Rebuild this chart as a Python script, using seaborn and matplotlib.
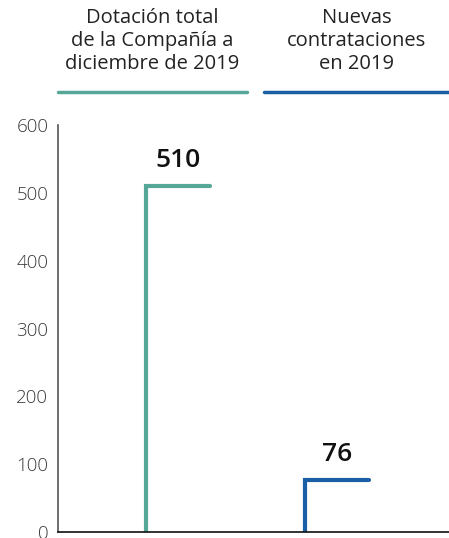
import matplotlib
matplotlib.use("Agg")
import matplotlib.pyplot as plt
import seaborn as sns
import pandas as pd

categories = ["Dotación total\nde la Compañía a\ndiciembre de 2019", "Nuevas\ncontrataciones\nen 2019"]
values = [510, 76]
colors = ["#56a797", "#1a5ea6"]
yticks = [0, 100, 200, 300, 400, 500, 600]

sns.set_theme(style="white")
plt.rcParams['font.family'] = ['Open Sans', 'DejaVu Sans']

fig = plt.figure(figsize=(4.49, 5.38), dpi=100)
ax = fig.add_axes([58/449, 6/538, 1 - 58/449, (532-125)/538])

arm = 0.40
rows = []
for i, (c, v) in enumerate(zip(categories, values)):
    for k, (x, y) in enumerate([(i, 0), (i, v), (i + arm, v)]):
        rows.append({"cat": c, "x": x, "y": y, "order": k})
df = pd.DataFrame(rows)

sns.lineplot(data=df, x="x", y="y", hue="cat", palette=colors, sort=False,
             estimator=None, linewidth=3.0, legend=False, ax=ax,
             solid_capstyle="round", solid_joinstyle="miter")

for i, v in enumerate(values):
    ax.annotate(str(v), (i + arm/2, v), xytext=(0, 9.5), textcoords="offset points",
                ha="center", va="bottom", fontsize=19, fontweight="semibold", color="#111111")

ax.set_xlim(-0.553, 1.906)
ax.set_ylim(0, 600)
ax.set_yticks(yticks)
ax.set_xticks([])
ax.set_xlabel("")
ax.set_ylabel("")
ax.tick_params(axis="y", length=0, pad=7, labelsize=13.5, labelcolor="#3a3a3a")
for lab in ax.get_yticklabels():
    lab.set_fontweight("light")
for s in ["top", "right"]:
    ax.spines[s].set_visible(False)
ax.spines["left"].set_color("#555555")
ax.spines["left"].set_linewidth(1.2)
ax.spines["bottom"].set_color("#111111")
ax.spines["bottom"].set_linewidth(1.2)

# headers
hx = [(58, 247), (264, 449)]
for (x0, x1), c, col in zip(hx, categories, colors):
    xc = (x0 + x1) / 2 / 449
    fig.text(xc, 1 - 41/538, c, ha="center", va="center", fontsize=14.5,
             color="#222222", linespacing=1.18)
    fig.add_artist(plt.Line2D([x0/449, x1/449], [1 - 92/538, 1 - 92/538],
                              color=col, linewidth=2.5, transform=fig.transFigure))

fig.savefig("out.png", dpi=100)
